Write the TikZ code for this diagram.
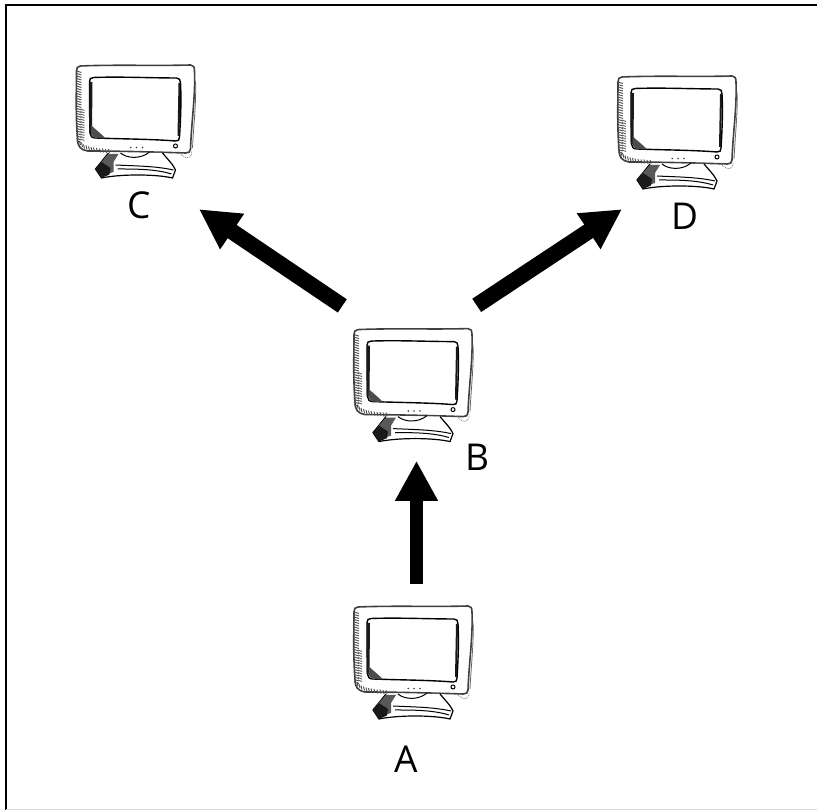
\documentclass[tikz,border=0pt]{standalone}
\usepackage{fontspec}
\setmainfont{Open Sans}
\usetikzlibrary{positioning,arrows.meta}

\tikzset{
compbox/.style={minimum width=120pt,minimum height=116pt,inner sep=0pt},
lbl/.style={inner sep=0pt,text height=27pt,text depth=0pt,font=\fontsize{37}{37}\selectfont},
bigarrow/.style={line width=13pt,-{Triangle[length=40pt,width=40pt]}},
slantarrow/.style={bigarrow,line width=16pt},
monitor/.pic={
    % cabinet
    \draw[line width=1.6pt,black!75]
        (-55,55) .. controls (-20,56.5) and (20,55) .. (55,56)
        .. controls (58,56) and (59,54) .. (59,50)
        .. controls (60,25) and (56,0) .. (55,-28)
        .. controls (55,-31) and (53,-32) .. (50,-32)
        .. controls (20,-31) and (-20,-30) .. (-48,-30)
        .. controls (-55,-29) and (-58,-25) .. (-58,-18)
        .. controls (-60,10) and (-59,30) .. (-59,50)
        .. controls (-59,53) and (-58,55) .. (-55,55);
    \draw[line width=.8pt,black!60] (60,40) .. controls (61,20) and (58,-5) .. (57,-27);
    % hatching on the left and bottom of the cabinet
    \foreach \yy in {50,47.5,...,-20} {
        \draw[line width=.9pt,black!70] (-59,\yy) -- (-54,\yy-1.5);
    }
    \foreach \yy in {12,9.5,...,-18} {
        \draw[line width=.9pt,black!60] (-55,\yy) -- (-51,\yy-1.5);
    }
    \foreach \xx/\yy in {-56/-20,-54/-22,-52/-23.5,-49.5/-24.5,-47/-25.5,-44.5/-26,-42/-26.5,-39/-27,-36/-27.5,-33/-27.5,-30/-28,-27/-28} {
        \draw[line width=.9pt,black!70] (\xx,\yy) -- (\xx+1,\yy-4);
    }
    % screen
    \draw[line width=1.4pt,fill=white]
        (-42,43.5) .. controls (-15,44.5) and (15,43) .. (41,43)
        .. controls (44,43) and (45,41) .. (45,38)
        .. controls (46,20) and (45,0) .. (44,-16)
        .. controls (44,-19) and (43,-20) .. (40,-20)
        .. controls (15,-18) and (-15,-18) .. (-40,-17)
        .. controls (-44,-17) and (-45,-15) .. (-45.5,-12)
        .. controls (-46,10) and (-46,25) .. (-46,39)
        .. controls (-46,42) and (-45,43.5) .. (-42,43.5);
    \draw[line width=3pt,black!90] (-44.5,39) -- (-45,-12);
    \draw[line width=2pt,black!90] (44,38) -- (43,-15);
    \fill[black!70] (-44.5,-4) .. controls (-41,-8) and (-36,-11) .. (-30,-17.5) -- (-41,-17) -- (-44.5,-13) -- cycle;
    % front panel
    \fill[black!75] (-4.7,-26.5) circle (.9) (1,-26.5) circle (.9) (7,-26.5) circle (.9);
    \draw[line width=1pt] (40,-25) circle (2);
    \draw[line width=.8pt,black!50,densely dotted] (44,-32) .. controls (50,-39) and (57,-38) .. (56,-30);
    % stand
    \draw[line width=1.2pt,fill=white]
        (27,-32) .. controls (32,-38) and (38,-44) .. (40,-49)
        -- (37,-57)
        .. controls (20,-53) and (-15,-53) .. (-34,-57)
        -- (-40,-48)
        -- (-27,-32);
    \draw[line width=1pt] (-15,-32) .. controls (-8,-38) and (6,-38) .. (14,-31);
    \draw[line width=1pt] (-20,-44) .. controls (0,-45) and (20,-45) .. (38,-49);
    \draw[line width=1pt] (-18,-48) .. controls (0,-48) and (20,-48) .. (36,-53);
    \fill[black!65] (-36,-43) -- (-27,-33) -- (-17,-33) -- (-22,-41) -- (-22,-51) -- (-28,-53) -- cycle;
    \fill[black!90] (-40,-48) -- (-34,-41) -- (-25,-47) -- (-26,-53.5) -- (-34,-57) -- cycle;
}
}

\begin{document}
\begin{tikzpicture}[x=1pt,y=1pt]
\useasboundingbox (0,0) rectangle (817,810);
\draw[line width=2pt] (6,0) -- (6,805) -- (817,805);
\draw[line width=.8pt,black!15] (6,1) -- (817,1);

\node (compa) [compbox] at (413,148) {};
\node (compb) [compbox,above=161pt of compa] {};
\node (compc) [compbox] at (135.5,689) {};
\node (compd) [compbox] at (677,678) {};
\pic at (compa) {monitor};
\pic at (compb) {monitor};
\pic at (compc) {monitor};
\pic at (compd) {monitor};

\node (lbla) [lbl,below=25pt of compa,xshift=-7pt] {A};
\node (lblb) [lbl,below=1pt of compb,xshift=64.5pt] {B};
\node (lblc) [lbl,below=12pt of compc,xshift=4pt] {C};
\node (lbld) [lbl,below=12pt of compd,xshift=8pt] {D};

\draw[bigarrow] ([xshift=3.5pt,yshift=20pt]compa.north) -- ([xshift=3.5pt,yshift=-18pt]compb.south);
\draw[slantarrow] ([xshift=-10.5pt,yshift=20.5pt]compb.north west) -- ([xshift=63.5pt,yshift=-30pt]compc.south);
\draw[slantarrow] ([xshift=3.5pt,yshift=21pt]compb.north east) -- ([xshift=-55pt,yshift=-19pt]compd.south);
\end{tikzpicture}
\end{document}
